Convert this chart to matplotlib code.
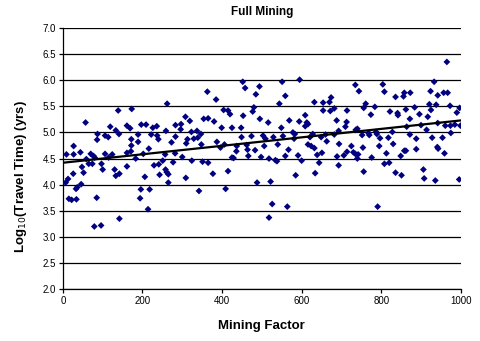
import numpy as np
import matplotlib
matplotlib.use("Agg")
import matplotlib.pyplot as plt

plt.rcParams['font.family'] = ['Liberation Sans', 'DejaVu Sans']

mining_factor = [
    139, 57, 87, 86, 106, 114, 119, 133, 141, 27, 9, 27, 44, 59, 70, 77, 80, 65, 74, 106,
    97, 100, 124, 115, 130, 133, 142, 48, 52, 26, 13, 7, 46, 33, 36, 15, 22, 34, 85, 79,
    96, 142,
    173, 262, 161, 169, 197, 209, 226, 236, 189, 222, 237, 240, 259, 283, 172, 172, 189, 171,
    161, 216, 202, 183, 273, 283, 257, 282, 251, 277, 241, 229, 161, 206, 258, 261, 265, 243,
    265, 196, 218, 194, 214,
    363, 385, 404, 415, 420, 308, 319, 354, 365, 380, 297, 296, 399, 425, 323, 337, 347, 313,
    329, 339, 310, 348, 387, 396, 406, 300, 324, 351, 365, 425, 377, 415, 309, 342, 409,
    452, 458, 494, 485, 551, 559, 544, 480, 477, 453, 495, 516, 569, 448, 549, 449, 474, 503,
    509, 529, 553, 437, 462, 506, 540, 567, 436, 464, 483, 466, 429, 498, 518, 534, 538, 559,
    488, 522, 526, 564, 518,
    595, 632, 654, 670, 674, 682, 654, 672, 714, 609, 594, 613, 616, 609, 688, 713, 710, 693,
    578, 583, 581, 628, 621, 649, 660, 682, 663, 694, 616, 624, 632, 651, 639, 591, 714, 706,
    689, 600, 644, 693, 585, 634,
    735, 744, 804, 808, 836, 856, 858, 761, 756, 784, 774, 822, 841, 842, 736, 740, 752, 768,
    770, 787, 789, 797, 828, 818, 830, 725, 754, 795, 730, 735, 742, 740, 776, 813, 849, 858,
    808, 820, 756, 836, 851, 791,
    965, 933, 924, 957, 967, 942, 873, 862, 884, 921, 938, 925, 973, 997, 990, 896, 917, 872,
    942, 864, 900, 914, 961, 974, 985, 999, 872, 888, 975, 928, 954, 941, 943, 862, 888, 959,
    906, 908, 936, 996,
]

log_travel_time = [
    5.42, 5.19, 4.97, 4.86, 4.94, 4.91, 5.11, 5.04, 4.97, 4.74, 4.58, 4.58, 4.62, 4.49, 4.59, 4.55, 4.52, 4.40, 4.40, 4.59,
    4.40, 4.29, 4.58, 4.52, 4.29, 4.17, 4.21, 4.34, 4.23, 4.21, 4.11, 4.04, 4.01, 3.92, 3.95, 3.73, 3.71, 3.72, 3.75, 3.20,
    3.22, 3.35,
    5.45, 5.55, 5.13, 5.08, 5.15, 5.15, 5.09, 5.12, 4.96, 4.96, 4.94, 4.87, 5.03, 5.14, 4.87, 4.75, 4.82, 4.64,
    4.61, 4.69, 4.59, 4.50, 4.81, 4.92, 4.58, 4.60, 4.46, 4.43, 4.39, 4.37, 4.35, 4.15, 4.29, 4.24, 4.20, 4.19,
    4.04, 3.91, 3.91, 3.74, 3.53,
    5.78, 5.63, 5.43, 5.42, 5.35, 5.30, 5.22, 5.26, 5.27, 5.21, 5.16, 5.06, 5.09, 5.09, 5.01, 5.03, 4.97, 4.87,
    4.88, 4.90, 4.79, 4.77, 4.82, 4.71, 4.77, 4.53, 4.46, 4.44, 4.42, 4.52, 4.21, 4.26, 4.13, 3.88, 3.92,
    5.97, 5.85, 5.88, 5.73, 5.97, 5.70, 5.55, 5.48, 5.40, 5.32, 5.26, 5.19, 5.23, 5.09, 5.09, 4.91, 4.93, 4.94,
    4.88, 4.91, 4.93, 4.74, 4.76, 4.74, 4.77, 4.67, 4.64, 4.67, 4.66, 4.55, 4.51, 4.53, 4.50, 4.47, 4.45, 4.55,
    4.04, 4.06, 3.63, 3.58, 3.37,
    6.01, 5.58, 5.57, 5.58, 5.67, 5.46, 5.42, 5.41, 5.42, 5.33, 5.21, 5.19, 5.16, 5.12, 5.23, 5.20, 5.11, 5.03,
    5.00, 4.97, 4.88, 4.97, 4.91, 4.91, 4.96, 4.96, 4.83, 4.78, 4.77, 4.74, 4.70, 4.61, 4.57, 4.56, 4.63, 4.56,
    4.54, 4.46, 4.42, 4.37, 4.18, 4.22,
    5.91, 5.79, 5.92, 5.78, 5.68, 5.69, 5.76, 5.55, 5.47, 5.49, 5.34, 5.40, 5.37, 5.33, 5.05, 5.07, 4.95, 4.99,
    4.95, 5.01, 4.97, 4.89, 5.01, 4.90, 4.78, 4.74, 4.71, 4.74, 4.62, 4.59, 4.58, 4.50, 4.52, 4.60, 4.55, 4.65,
    4.40, 4.42, 4.25, 4.23, 4.18, 3.58,
    6.35, 5.97, 5.79, 5.76, 5.76, 5.71, 5.76, 5.44, 5.48, 5.54, 5.53, 5.43, 5.51, 5.47, 5.38, 5.35, 5.30, 5.26,
    5.18, 5.11, 5.14, 5.05, 5.13, 5.13, 5.15, 5.13, 4.96, 4.88, 4.99, 4.90, 4.90, 4.72, 4.69, 4.65, 4.68, 4.60,
    4.29, 4.12, 4.08, 4.10,
]

# linear trendline (value at x=0 and at x=1000)
trend_x = [0, 1000]
trend_y = [4.42, 5.23]

x_ticks = [0, 200, 400, 600, 800, 1000]
y_ticks = [2.0, 2.5, 3.0, 3.5, 4.0, 4.5, 5.0, 5.5, 6.0, 6.5, 7.0]

fig = plt.figure(figsize=(4.8, 3.41), dpi=100)
ax = fig.add_axes([0.131, 0.152, 0.829, 0.766])

for t in y_ticks:
    ax.axhline(t, color='black', linewidth=0.9, zorder=1)

ax.scatter(mining_factor, log_travel_time, marker='D', s=12, color='#000080',
           edgecolors='none', zorder=3)

ax.plot(trend_x, trend_y, color='black', linewidth=1.6, zorder=4)

ax.set_xlim(0, 1000)
ax.set_ylim(2.0, 7.0)
ax.set_xticks(x_ticks)
ax.set_yticks(y_ticks)
ax.set_yticklabels([f"{v:.1f}" for v in y_ticks])
ax.tick_params(axis='both', labelsize=7, direction='out', length=3, width=0.9, pad=2)
for s in ['top', 'right']:
    ax.spines[s].set_visible(False)
for s in ['left', 'bottom']:
    ax.spines[s].set_linewidth(0.9)

ax.set_title('Full Mining', fontsize=8.5, fontweight='bold', pad=9)
ax.set_xlabel('Mining Factor', fontsize=9.5, fontweight='bold', labelpad=10)
ax.set_ylabel('Log$_{10}$(Travel Time) (yrs)', fontsize=9.5, fontweight='bold')
ax.yaxis.set_label_coords(-0.085, 0.43)

fig.savefig('out.png', dpi=100)
